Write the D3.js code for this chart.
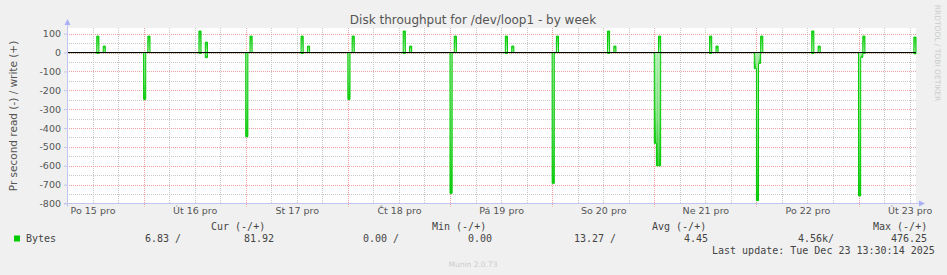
<!DOCTYPE html>
<html>
<head>
<meta charset="utf-8">
<script src="https://cdn.jsdelivr.net/npm/d3@7"></script>
<style>
  body { margin: 0; background: #f0f0f0; }
  svg { display: block; }
</style>
</head>
<body>
<div id="chart"></div>
<script>
// Samples (30 minute steps, bytes per second)
const sampleTimes = [
  '2025-12-15T13:00', '2025-12-15T14:30',
  '2025-12-16T00:00', '2025-12-16T01:00', '2025-12-16T13:00', '2025-12-16T14:30',
  '2025-12-17T00:00', '2025-12-17T01:00', '2025-12-17T13:00', '2025-12-17T14:30',
  '2025-12-18T00:00', '2025-12-18T01:00', '2025-12-18T13:00', '2025-12-18T14:30',
  '2025-12-19T00:00', '2025-12-19T01:00', '2025-12-19T13:00', '2025-12-19T14:30',
  '2025-12-20T00:00', '2025-12-20T01:00', '2025-12-20T13:00', '2025-12-20T14:30',
  '2025-12-21T00:00', '2025-12-21T00:30', '2025-12-21T01:00', '2025-12-21T13:00', '2025-12-21T14:30',
  '2025-12-21T23:30',
  '2025-12-22T00:00', '2025-12-22T00:30', '2025-12-22T01:00', '2025-12-22T13:00', '2025-12-22T14:30',
  '2025-12-23T00:00', '2025-12-23T00:30', '2025-12-23T01:00', '2025-12-23T13:00'
];
const readValues = [
  5, 0,
  248, 0, 5, 27,
  446, 0, 5, 0,
  248, 0, 5, 0,
  746, 0, 5, 0,
  693, 0, 5, 0,
  481, 600, 600, 5, 0,
  84,
  785, 57, 0, 5, 0,
  760, 25, 5, 6.83
];
const writeValues = [
  87, 34,
  0, 87, 114, 55,
  0, 87, 87, 34,
  0, 87, 114, 34,
  0, 87, 87, 34,
  0, 87, 114, 34,
  0, 0, 87, 87, 34,
  0,
  0, 0, 87, 114, 34,
  0, 0, 87, 81.92
];

const dayLabels = ['Po 15 pro', 'Út 16 pro', 'St 17 pro', 'Čt 18 pro', 'Pá 19 pro',
  'So 20 pro', 'Ne 21 pro', 'Po 22 pro', 'Út 23 pro'];
const yTicks = [100, 0, -100, -200, -300, -400, -500, -600, -700, -800];

const legendHeaders = ['Cur (-/+)', 'Min (-/+)', 'Avg (-/+)', 'Max (-/+)'];
const legendValues = ['6.83 /', '81.92', '0.00 /', '0.00', '13.27 /', '4.45', '4.56k/', '476.25'];

const parseTime = d3.utcParse('%Y-%m-%dT%H:%M');
const start = Date.UTC(2025, 11, 15, 6, 0);
const end = Date.UTC(2025, 11, 23, 13, 30);
const step = 30 * 60 * 1000;

// Build the full 30 minute timeline, zero where nothing was logged
const sampleMap = new Map();
sampleTimes.forEach((t, i) => sampleMap.set(+parseTime(t), i));
const timeline = d3.utcMinute.every(30).range(new Date(start), new Date(end + 1));
const series = timeline.map(t => {
  const i = sampleMap.get(+t);
  return {
    t: t,
    read: i === undefined ? 0 : readValues[i],
    write: i === undefined ? 0 : writeValues[i]
  };
});

const width = 947;
const height = 275;
const plot = { left: 67, right: 916, top: 28, bottom: 203.5 };

const svg = d3.select('#chart')
  .append('svg')
  .attr('width', width)
  .attr('height', height)
  .style('font-family', 'DejaVu Sans');

svg.append('rect')
  .attr('width', width)
  .attr('height', height)
  .attr('fill', '#f0f0f0');

const x = d3.scaleUtc()
  .domain([new Date(start), new Date(end)])
  .range([plot.left, plot.right]);

const y = d3.scaleLinear()
  .domain([-800, 130])
  .range([plot.bottom, plot.top]);

// Gradients for the spike fills
const defs = svg.append('defs');
const gUp = defs.append('linearGradient')
  .attr('id', 'gradWrite')
  .attr('x1', 0).attr('y1', 0).attr('x2', 0).attr('y2', 1);
gUp.append('stop').attr('offset', '0%').attr('stop-color', '#22d022');
gUp.append('stop').attr('offset', '100%').attr('stop-color', '#c8f2c8');
const gDown = defs.append('linearGradient')
  .attr('id', 'gradRead')
  .attr('x1', 0).attr('y1', 0).attr('x2', 0).attr('y2', 1);
gDown.append('stop').attr('offset', '0%').attr('stop-color', '#a8eca8');
gDown.append('stop').attr('offset', '60%').attr('stop-color', '#70de70');
gDown.append('stop').attr('offset', '100%').attr('stop-color', '#10c810');

// Plot background
svg.append('rect')
  .attr('x', plot.left)
  .attr('y', plot.top)
  .attr('width', plot.right - plot.left)
  .attr('height', plot.bottom - plot.top)
  .attr('fill', '#ffffff');

// Minor grid
const grid = svg.append('g').attr('fill', 'none');
const minorX = d3.utcHour.every(6).range(new Date(start), new Date(end));
const minorY = d3.range(-750, 130, 100);

grid.selectAll('.mx')
  .data(minorX)
  .enter()
  .append('line')
  .attr('x1', d => Math.round(x(d)) + 0.5)
  .attr('x2', d => Math.round(x(d)) + 0.5)
  .attr('y1', plot.top)
  .attr('y2', plot.bottom)
  .attr('stroke', '#c8c8c8')
  .attr('stroke-dasharray', '1,1');

grid.selectAll('.my')
  .data(minorY)
  .enter()
  .append('line')
  .attr('x1', plot.left)
  .attr('x2', plot.right)
  .attr('y1', d => Math.round(y(d)) + 0.5)
  .attr('y2', d => Math.round(y(d)) + 0.5)
  .attr('stroke', '#c8c8c8')
  .attr('stroke-dasharray', '1,1');

// Major grid
const majorX = d3.utcDay.range(new Date(start), new Date(end));
grid.selectAll('.Mx')
  .data(majorX)
  .enter()
  .append('line')
  .attr('x1', d => Math.round(x(d)) + 0.5)
  .attr('x2', d => Math.round(x(d)) + 0.5)
  .attr('y1', plot.top)
  .attr('y2', plot.bottom + 3)
  .attr('stroke', '#f0a0a0')
  .attr('stroke-dasharray', '1,1');

grid.selectAll('.My')
  .data(yTicks.filter(v => v > -800))
  .enter()
  .append('line')
  .attr('x1', plot.left)
  .attr('x2', plot.right)
  .attr('y1', d => Math.round(y(d)) + 0.5)
  .attr('y2', d => Math.round(y(d)) + 0.5)
  .attr('stroke', '#f0a0a0')
  .attr('stroke-dasharray', '1,1');

// Spike fills, one block per non-zero sample
const writeBlocks = series.filter(d => d.write > 0);
const readBlocks = series.filter(d => d.read > 0);

svg.append('g')
  .selectAll('rect')
  .data(writeBlocks)
  .enter()
  .append('rect')
  .attr('x', d => x(d.t))
  .attr('width', d => x(new Date(+d.t + step)) - x(d.t))
  .attr('y', d => y(d.write))
  .attr('height', d => y(0) - y(d.write))
  .attr('fill', 'url(#gradWrite)');

svg.append('g')
  .selectAll('rect')
  .data(readBlocks)
  .enter()
  .append('rect')
  .attr('x', d => x(d.t))
  .attr('width', d => x(new Date(+d.t + step)) - x(d.t))
  .attr('y', y(0))
  .attr('height', d => y(-d.read) - y(0))
  .attr('fill', 'url(#gradRead)');

// Data lines
const writeLine = d3.line()
  .x(d => x(d.t))
  .y(d => y(d.write))
  .curve(d3.curveStepAfter);

const readLine = d3.line()
  .x(d => x(d.t))
  .y(d => y(-d.read))
  .curve(d3.curveStepAfter);

svg.append('path')
  .datum(series)
  .attr('d', readLine)
  .attr('fill', 'none')
  .attr('stroke', '#00cc00')
  .attr('stroke-width', 1);

svg.append('path')
  .datum(series)
  .attr('d', writeLine)
  .attr('fill', 'none')
  .attr('stroke', '#00cc00')
  .attr('stroke-width', 1);

// Zero rule
svg.append('line')
  .attr('x1', plot.left)
  .attr('x2', plot.right)
  .attr('y1', y(0))
  .attr('y2', y(0))
  .attr('stroke', '#000000')
  .attr('stroke-width', 1);

// Axes frame with arrows
const axisColor = '#c4c4f0';
svg.append('line')
  .attr('x1', plot.left + 0.5)
  .attr('x2', plot.left + 0.5)
  .attr('y1', plot.bottom + 3)
  .attr('y2', plot.top - 5)
  .attr('stroke', axisColor);
svg.append('line')
  .attr('x1', plot.left - 3)
  .attr('x2', plot.right + 5)
  .attr('y1', plot.bottom)
  .attr('y2', plot.bottom)
  .attr('stroke', axisColor);
svg.append('path')
  .attr('d', `M${plot.left - 2.5},${plot.top - 3} L${plot.left + 0.5},${plot.top - 9} L${plot.left + 3.5},${plot.top - 3} Z`)
  .attr('fill', '#aab0f8');
svg.append('path')
  .attr('d', `M${plot.right + 3},${plot.bottom - 3} L${plot.right + 9},${plot.bottom} L${plot.right + 3},${plot.bottom + 3} Z`)
  .attr('fill', '#aab0f8');

// Y axis labels
const yAxis = d3.axisLeft(y)
  .tickValues(yTicks)
  .tickSize(3)
  .tickPadding(3)
  .tickFormat(d => String(d));

const yg = svg.append('g')
  .attr('transform', `translate(${plot.left},0)`)
  .call(yAxis);
yg.select('.domain').remove();
yg.selectAll('line').attr('stroke', '#c4c4f0');
yg.selectAll('text')
  .attr('fill', '#555')
  .style('font-family', 'DejaVu Sans')
  .style('font-size', '9.5px');

// X axis labels at noon of each day
const noonTicks = dayLabels.map((d, i) => new Date(Date.UTC(2025, 11, 15 + i, 12)));
const xAxis = d3.axisBottom(x)
  .tickValues(noonTicks)
  .tickSize(0)
  .tickPadding(4)
  .tickFormat((d, i) => dayLabels[i]);

const xg = svg.append('g')
  .attr('transform', `translate(0,${plot.bottom})`)
  .call(xAxis);
xg.select('.domain').remove();
xg.selectAll('text')
  .attr('fill', '#555')
  .style('font-family', 'DejaVu Sans')
  .style('font-size', '9.5px');

// Title
svg.append('text')
  .attr('x', 473)
  .attr('y', 23.5)
  .attr('text-anchor', 'middle')
  .attr('fill', '#555')
  .style('font-size', '12px')
  .text('Disk throughput for /dev/loop1 - by week');

// Vertical axis label
svg.append('text')
  .attr('transform', 'translate(17,116) rotate(-90)')
  .attr('text-anchor', 'middle')
  .attr('fill', '#555')
  .style('font-size', '10.5px')
  .text('Pr second read (-) / write (+)');

// Watermark on the right
svg.append('text')
  .attr('transform', 'translate(935,53) rotate(90)')
  .attr('text-anchor', 'middle')
  .attr('fill', '#cccccc')
  .style('font-size', '7.5px')
  .text('RRDTOOL / TOBI OETIKER');

// Legend
const legend = svg.append('g')
  .style('font-family', 'DejaVu Sans Mono')
  .style('font-size', '10px')
  .attr('fill', '#444');

const headerX = [211, 432, 652, 873];
legend.selectAll('.hdr')
  .data(legendHeaders)
  .enter()
  .append('text')
  .attr('x', (d, i) => headerX[i])
  .attr('y', 229.5)
  .text(d => d);

legend.append('rect')
  .attr('x', 14)
  .attr('y', 235.5)
  .attr('width', 6)
  .attr('height', 6)
  .attr('fill', '#00cc00');

legend.append('text')
  .attr('x', 26)
  .attr('y', 241.5)
  .text('Bytes');

const valueX = [145, 244, 363, 468, 574, 684, 798, 891];
legend.selectAll('.val')
  .data(legendValues)
  .enter()
  .append('text')
  .attr('x', (d, i) => valueX[i])
  .attr('y', 241.5)
  .text(d => d);

legend.append('text')
  .attr('x', 712)
  .attr('y', 253.5)
  .text('Last update: Tue Dec 23 13:30:14 2025');

svg.append('text')
  .attr('x', 473)
  .attr('y', 266.5)
  .attr('text-anchor', 'middle')
  .attr('fill', '#cccccc')
  .style('font-size', '7.5px')
  .text('Munin 2.0.73');
</script>
</body>
</html>
